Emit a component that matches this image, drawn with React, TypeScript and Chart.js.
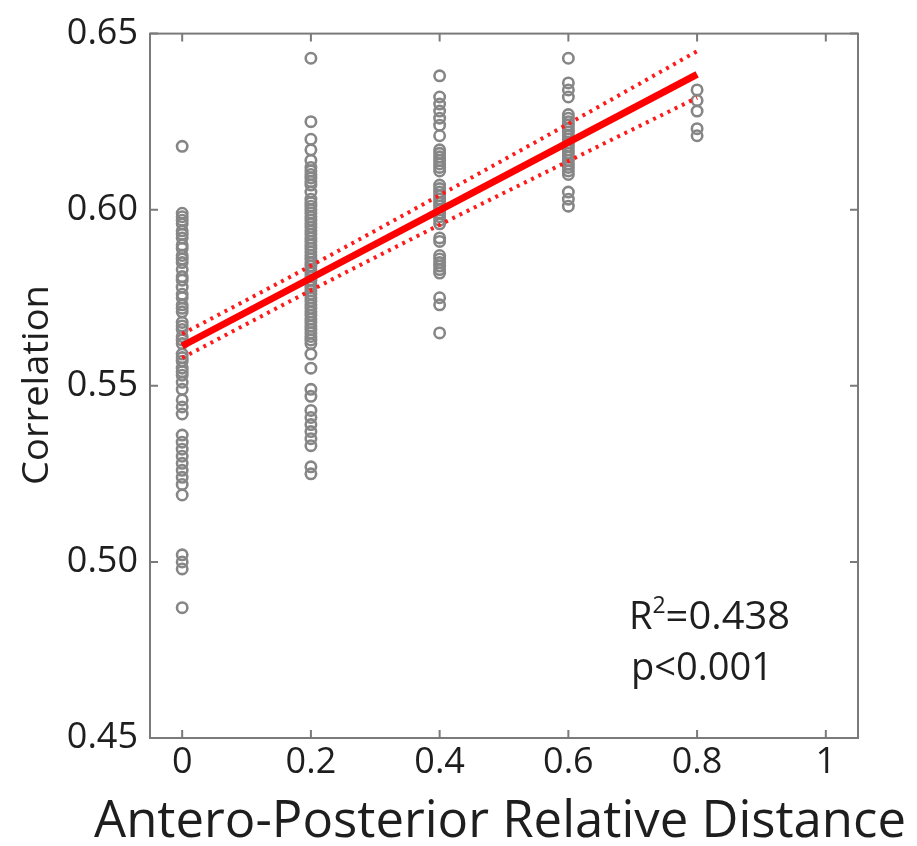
import React, { useEffect, useRef } from "react";
import { Chart, registerables } from "chart.js";

Chart.register(...registerables);

// ---- data ----
const groupX = [0, 0.2, 0.4, 0.6, 0.8];
const corrAt00 = [0.618, 0.599, 0.598, 0.597, 0.596, 0.594, 0.593, 0.592, 0.59, 0.589, 0.587, 0.586, 0.585, 0.583, 0.581, 0.58, 0.578, 0.576, 0.575, 0.573, 0.572, 0.571, 0.568, 0.567, 0.566, 0.564, 0.563, 0.562, 0.559, 0.558, 0.557, 0.555, 0.554, 0.553, 0.551, 0.549, 0.546, 0.544, 0.542, 0.536, 0.534, 0.532, 0.53, 0.528, 0.526, 0.524, 0.522, 0.519, 0.502, 0.5, 0.498, 0.487];
const corrAt02 = [0.643, 0.625, 0.62, 0.617, 0.614, 0.612, 0.611, 0.61, 0.609, 0.608, 0.607, 0.605, 0.603, 0.602, 0.601, 0.6, 0.599, 0.598, 0.597, 0.596, 0.595, 0.594, 0.593, 0.592, 0.591, 0.59, 0.589, 0.588, 0.587, 0.586, 0.585, 0.584, 0.583, 0.582, 0.581, 0.58, 0.579, 0.578, 0.577, 0.576, 0.575, 0.574, 0.573, 0.572, 0.571, 0.57, 0.569, 0.568, 0.567, 0.566, 0.565, 0.564, 0.563, 0.562, 0.559, 0.555, 0.549, 0.547, 0.543, 0.541, 0.539, 0.537, 0.535, 0.533, 0.527, 0.525];
const corrAt04 = [0.638, 0.632, 0.63, 0.628, 0.626, 0.624, 0.621, 0.617, 0.616, 0.615, 0.614, 0.613, 0.612, 0.611, 0.607, 0.606, 0.605, 0.604, 0.603, 0.602, 0.601, 0.6, 0.599, 0.598, 0.597, 0.596, 0.592, 0.591, 0.587, 0.586, 0.585, 0.584, 0.583, 0.582, 0.575, 0.573, 0.565];
const corrAt06 = [0.643, 0.636, 0.634, 0.632, 0.627, 0.626, 0.625, 0.624, 0.623, 0.622, 0.621, 0.62, 0.619, 0.618, 0.617, 0.616, 0.615, 0.614, 0.613, 0.612, 0.611, 0.61, 0.605, 0.603, 0.601];
const corrAt08 = [0.634, 0.631, 0.628, 0.623, 0.621];
const corrGroups = [corrAt00, corrAt02, corrAt04, corrAt06, corrAt08];

const fitX = [0, 0.8];
const fitY = [0.5613, 0.6384];
const bandX = [0, 0.2, 0.4, 0.6, 0.8];
const bandUpper = [0.5647, 0.5841, 0.6041, 0.6244, 0.645];
const bandLower = [0.5579, 0.5771, 0.5957, 0.6138, 0.6318];

const xTicks = [0, 0.2, 0.4, 0.6, 0.8, 1];
const yTicks = [0.45, 0.5, 0.55, 0.6, 0.65];

const xTitle = "Antero-Posterior Relative Distance";
const yTitle = "Correlation";
const statR2 = "0.438";
const statP = "p<0.001";

const FONT = "'Open Sans', 'Noto Sans', sans-serif";
const TEXT = "#1e1e1e";
const FRAME = "#7a7a7a";

function fittedText(ctx: CanvasRenderingContext2D, text: string, x: number, y: number, size: number, width: number) {
  ctx.font = `${size}px ${FONT}`;
  const w = ctx.measureText(text).width;
  const s = width / w;
  ctx.save();
  ctx.translate(x, y);
  ctx.scale(s, 1);
  ctx.textAlign = "center";
  ctx.fillText(text, 0, 0);
  ctx.restore();
}

const framePlugin = {
  id: "frame",
  beforeDatasetsDraw(chart: any) {
    const { ctx, chartArea: a, scales } = chart;
    ctx.save();
    ctx.strokeStyle = FRAME;
    ctx.lineWidth = 2;
    ctx.strokeRect(a.left, a.top, a.right - a.left, a.bottom - a.top);
    const L = 8;
    ctx.beginPath();
    xTicks.forEach((v) => {
      const p = scales.x.getPixelForValue(v);
      ctx.moveTo(p, a.bottom);
      ctx.lineTo(p, a.bottom - L);
      ctx.moveTo(p, a.top);
      ctx.lineTo(p, a.top + L);
    });
    yTicks.forEach((v) => {
      const p = scales.y.getPixelForValue(v);
      ctx.moveTo(a.left, p);
      ctx.lineTo(a.left + L, p);
      ctx.moveTo(a.right, p);
      ctx.lineTo(a.right - L, p);
    });
    ctx.stroke();
    ctx.restore();
  },
  afterDraw(chart: any) {
    const { ctx } = chart;
    ctx.save();
    ctx.fillStyle = TEXT;
    ctx.textBaseline = "alphabetic";
    // x title
    fittedText(ctx, xTitle, 500, 837, 52, 812);
    // y title
    ctx.save();
    ctx.translate(48, 385);
    ctx.rotate(-Math.PI / 2);
    fittedText(ctx, yTitle, 0, 0, 36, 200);
    ctx.restore();
    // stats
    ctx.textAlign = "left";
    const big = 38;
    ctx.font = `${big}px ${FONT}`;
    ctx.fillText("R", 629, 629);
    const rw = ctx.measureText("R").width;
    ctx.font = `23px ${FONT}`;
    ctx.fillText("2", 629 + rw, 613);
    const sw = ctx.measureText("2").width;
    ctx.font = `${big}px ${FONT}`;
    ctx.save();
    ctx.translate(629 + rw + sw, 629);
    const eqW = ctx.measureText("=" + statR2).width;
    ctx.scale((790 - (629 + rw + sw)) / eqW, 1);
    ctx.fillText("=" + statR2, 0, 0);
    ctx.restore();
    ctx.save();
    ctx.translate(631, 680);
    const pw = ctx.measureText(statP).width;
    ctx.scale((773 - 631) / pw, 1);
    ctx.fillText(statP, 0, 0);
    ctx.restore();
    ctx.restore();
  },
};

export default function App() {
  const ref = useRef<HTMLCanvasElement>(null);
  useEffect(() => {
    document.body.style.margin = "0";
    const canvas = ref.current!;
    const scatterData = corrGroups.flatMap((g, i) => g.map((v) => ({ x: groupX[i], y: v })));
    const chart = new Chart(canvas, {
      type: "scatter",
      data: {
        datasets: [
          {
            type: "line",
            label: "fit",
            data: fitX.map((x, i) => ({ x, y: fitY[i] })),
            borderColor: "#ff0000",
            borderWidth: 7,
            pointRadius: 0,
            fill: false,
            order: 0,
          } as any,
          {
            type: "line",
            label: "upper",
            data: bandX.map((x, i) => ({ x, y: bandUpper[i] })),
            borderColor: "#ff1a1a",
            borderWidth: 4,
            borderDash: [3, 5],
            pointRadius: 0,
            fill: false,
            cubicInterpolationMode: "monotone",
            order: 1,
          } as any,
          {
            type: "line",
            label: "lower",
            data: bandX.map((x, i) => ({ x, y: bandLower[i] })),
            borderColor: "#ff1a1a",
            borderWidth: 4,
            borderDash: [3, 5],
            pointRadius: 0,
            fill: false,
            cubicInterpolationMode: "monotone",
            order: 1,
          } as any,
          {
            label: "data",
            data: scatterData,
            pointStyle: "circle",
            pointRadius: 5.2,
            borderWidth: 2.6,
            borderColor: "#868686",
            backgroundColor: "rgba(0,0,0,0)",
            order: 2,
          },
        ],
      },
      plugins: [framePlugin],
      options: {
        animation: false,
        responsive: false,
        events: [],
        layout: { padding: { top: 32, right: 59, left: 0, bottom: 0 } },
        plugins: { legend: { display: false }, tooltip: { enabled: false } },
        scales: {
          x: {
            type: "linear",
            min: -0.05,
            max: 1.05,
            grid: { display: false, drawTicks: false },
            border: { display: false },
            afterBuildTicks: (s: any) => {
              s.ticks = xTicks.map((v) => ({ value: v }));
            },
            afterFit: (s: any) => {
              s.height = 108;
            },
            ticks: {
              color: TEXT,
              font: { family: FONT, size: 36 },
              padding: 3,
              maxRotation: 0,
              autoSkip: false,
              callback: (v: any) => (v === 0 ? "0" : v === 1 ? "1" : Number(v).toFixed(1)),
            },
          },
          y: {
            type: "linear",
            min: 0.45,
            max: 0.65,
            grid: { display: false, drawTicks: false },
            border: { display: false },
            afterBuildTicks: (s: any) => {
              s.ticks = yTicks.map((v) => ({ value: v }));
            },
            afterFit: (s: any) => {
              s.width = 150;
            },
            ticks: {
              color: TEXT,
              font: { family: FONT, size: 36 },
              padding: 12,
              autoSkip: false,
              callback: (v: any) => Number(v).toFixed(2),
            },
          },
        },
      },
    });
    return () => chart.destroy();
  }, []);
  return <canvas ref={ref} width={917} height={846} style={{ display: "block" }} />;
}
